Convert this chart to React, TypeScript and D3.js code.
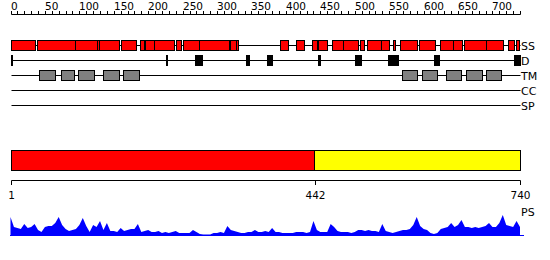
import React from "react";
import * as d3 from "d3";

const SEQ_LENGTH = 740;
const TOP_TICK_STEP = 10;
const TOP_LABEL_STEP = 50;
const TOP_LABEL_MAX = 700;

const TRACK_NAMES = ["SS", "D", "TM", "CC", "SP"];

// Secondary structure segments [start, end] in residues
const ssSegments: [number, number][] = [
  [0, 35], [38, 94], [94, 125], [125, 128], [128, 157], [161, 183], [188, 194],
  [196, 208], [208, 238], [240, 248], [250, 274], [274, 317], [319, 327], [327, 331],
  [391, 403], [415, 427], [438, 445], [447, 459], [467, 483], [483, 504], [508, 513],
  [518, 538], [538, 550], [556, 559], [565, 591], [594, 617], [624, 642], [642, 656],
  [659, 691], [691, 715], [722, 731], [734, 738],
];

// Disorder segments
const dSegments: [number, number][] = [
  [0, 2], [226, 228], [268, 278], [342, 346], [373, 380], [447, 449],
  [500, 509], [549, 563], [615, 623], [732, 740],
];

// Transmembrane segments
const tmSegments: [number, number][] = [
  [42, 64], [74, 92], [98, 121], [135, 157], [164, 186],
  [568, 590], [597, 619], [633, 655], [662, 685], [690, 712],
];

// Domain boundaries
const domainBounds = [1, 442, 740];
const domainColors = ["#ff0000", "#ffff00"];

// Profile (PS) sampled every 5 residues, starting at residue 0
const psStep = 5;
const psValues = [
  18, 8, 7, 6, 11, 7, 8, 11, 5, 3, 8, 9, 9, 12, 18, 10, 6, 4, 5, 6,
  10, 17, 9, 3, 10, 8, 14, 5, 12, 4, 4, 3, 7, 4, 5, 6, 6, 11, 3, 4,
  5, 3, 3, 4, 2, 3, 2, 3, 4, 2, 2, 2, 2, 5, 3, 1, 0.5, 0.5, 0.5, 2,
  2, 3, 2, 9, 5, 4, 3, 2, 2, 3, 3, 5, 3, 3, 4, 3, 7, 3, 3, 2,
  2, 2, 2, 3, 3, 3, 2, 3, 14, 5, 3, 3, 3, 11, 8, 4, 3, 3, 3, 2,
  3, 5, 5, 4, 5, 4, 4, 3, 11, 4, 3, 2, 3, 4, 5, 5, 6, 10, 18, 9,
  6, 5, 2, 1, 2, 6, 7, 8, 12, 8, 10, 15, 8, 8, 7, 8, 7, 8, 9, 12,
  8, 8, 12, 20, 10, 9, 8, 14, 8,
];

const FONT = "DejaVu Sans, sans-serif";

export default function App() {
  const x = d3.scaleLinear().domain([0, SEQ_LENGTH]).range([10.5, 520]);
  const px = (v: number) => Math.round(x(v)) + 0.5;

  const trackY = d3.scalePoint<string>().domain(TRACK_NAMES).range([45.5, 105.5]);
  const boxH = 10;

  const topTicks = d3.range(0, SEQ_LENGTH + 1, TOP_TICK_STEP);
  const topLabels = d3.range(0, TOP_LABEL_MAX + 1, TOP_LABEL_STEP);

  const psData = psValues.map((v, i) => ({ r: Math.min(i * psStep, SEQ_LENGTH), v }));
  const yPS = d3.scaleLinear().domain([0, 20]).range([235, 215]);
  const area = d3
    .area<{ r: number; v: number }>()
    .x((d) => x(d.r))
    .y0(yPS(0))
    .y1((d) => yPS(d.v));

  const renderBoxes = (segs: [number, number][], track: string, fill: string) =>
    segs.map(([s, e], i) => {
      const x0 = px(s);
      const x1 = Math.max(px(e), x0 + 1);
      const cy = trackY(track)!;
      return (
        <rect
          key={track + i}
          x={x0}
          y={cy - boxH / 2}
          width={x1 - x0}
          height={boxH}
          fill={fill}
          stroke="#000"
          strokeWidth={1}
        />
      );
    });

  return (
    <svg
      width={550}
      height={260}
      style={{ position: "absolute", left: 0, top: 0, background: "#fff" }}
      fontFamily={FONT}
    >
      {/* top ruler */}
      <line x1={px(0)} x2={px(SEQ_LENGTH)} y1={14.5} y2={14.5} stroke="#000" />
      {topTicks.map((t) => (
        <line key={"t" + t} x1={px(t)} x2={px(t)} y1={11} y2={14.5} stroke="#000" />
      ))}
      {topLabels.map((t) => (
        <text key={"l" + t} x={px(t) - 0.5} y={10} fontSize={10.5} fill="#000">
          {t}
        </text>
      ))}

      {/* tracks */}
      {TRACK_NAMES.map((name) => (
        <g key={name}>
          <line
            x1={px(0)}
            x2={px(SEQ_LENGTH)}
            y1={trackY(name)}
            y2={trackY(name)}
            stroke="#000"
          />
          <text x={521} y={trackY(name)! + 4.5} fontSize={11} fill="#000">
            {name}
          </text>
        </g>
      ))}
      {renderBoxes(ssSegments, "SS", "#ff0000")}
      {renderBoxes(dSegments, "D", "#000000")}
      {renderBoxes(tmSegments, "TM", "#808080")}

      {/* domain bar */}
      {domainColors.map((c, i) => (
        <rect
          key={"dom" + i}
          x={px(domainBounds[i] - 1)}
          y={150.5}
          width={px(domainBounds[i + 1]) - px(domainBounds[i] - 1)}
          height={20}
          fill={c}
          stroke="#000"
        />
      ))}

      {/* bottom axis */}
      <line x1={px(0)} x2={px(SEQ_LENGTH)} y1={180.5} y2={180.5} stroke="#000" />
      {domainBounds.map((b) => (
        <g key={"b" + b}>
          <line x1={px(b === 1 ? 0 : b)} x2={px(b === 1 ? 0 : b)} y1={180.5} y2={185} stroke="#000" />
          <text x={px(b === 1 ? 0 : b)} y={199} fontSize={10.5} textAnchor="middle" fill="#000">
            {b}
          </text>
        </g>
      ))}

      {/* PS profile */}
      <text x={521} y={216} fontSize={11} fill="#000">
        PS
      </text>
      <path d={area(psData) || ""} fill="#0000ff" stroke="none" />
      <line x1={10} x2={524} y1={235.5} y2={235.5} stroke="#0000ff" />
    </svg>
  );
}
